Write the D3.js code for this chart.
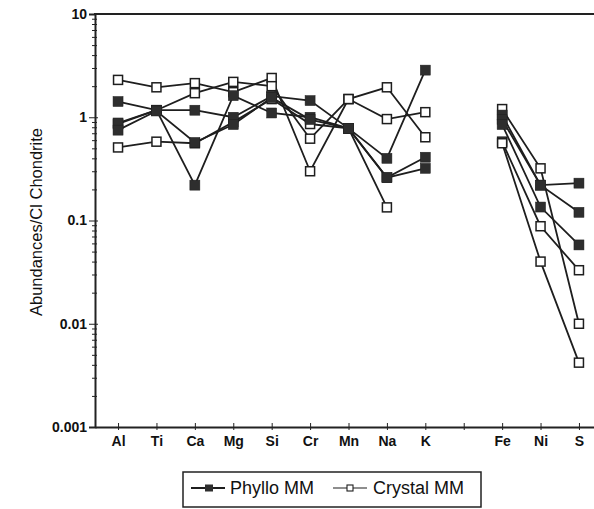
<!DOCTYPE html>
<html>
<head>
<meta charset="utf-8">
<script src="https://cdn.jsdelivr.net/npm/d3@7"></script>
<style>
  body { margin: 0; background: #fff; }
  text { font-family: "Liberation Sans", Arial, sans-serif; fill: #111; }
  .domain { stroke: #222; }
  .tick line { stroke: #222; }
</style>
</head>
<body>
<div id="chart"></div>
<script>
// categories along the x axis (blank slot between K and Fe)
var categories = ["Al", "Ti", "Ca", "Mg", "Si", "Cr", "Mn", "Na", "K", "gap", "Fe", "Ni", "S"]
var categoryLabels = ["Al", "Ti", "Ca", "Mg", "Si", "Cr", "Mn", "Na", "K", "", "Fe", "Ni", "S"]

// Phyllo MM (filled squares)
var phyllo1 = [1.42, 1.17, 1.17, 1.0, 1.6, 1.45, 0.78, 0.40, 2.86, null, 1.05, 0.22, 0.23]
var phyllo2 = [0.88, 1.17, 0.22, 1.62, 1.1, 1.0, 0.78, 0.26, 0.41, null, 0.95, 0.22, 0.12]
var phyllo3 = [0.75, 1.15, 0.57, 0.85, 1.55, 0.95, 0.78, 0.26, 0.32, null, 0.85, 0.135, 0.058]

// Crystal MM (open squares)
var crystal1 = [2.3, 1.95, 2.14, 1.75, 2.4, 0.30, 1.5, 1.95, 0.64, null, 1.2, 0.32, 0.010]
var crystal2 = [0.86, 1.17, 1.71, 2.2, 2.0, 0.62, 1.5, 0.96, 1.12, null, 0.58, 0.088, 0.033]
var crystal3 = [0.51, 0.58, 0.56, 0.9, 1.5, 0.86, 0.78, 0.134, null, null, 0.56, 0.04, 0.0042]

var yTickValues = [10, 1, 0.1, 0.01, 0.001]
var yTickLabels = ["10", "1", "0.1", "0.01", "0.001"]

var width = 594,
    height = 509

var svg = d3.select("#chart")
  .append("svg")
  .attr("width", width)
  .attr("height", height)

var x = d3.scalePoint()
  .domain(categories)
  .range([95, 602])
  .padding(0.6)

var y = d3.scaleLog()
  .domain([0.001, 10])
  .range([427, 14])

// minor ticks 2..9 in each decade
var minor = []
yTickValues.slice(1).forEach(function(d) {
  for (var k = 2; k <= 9; k++) minor.push(d * k)
})

// y axis: major ticks with labels
svg.append("g")
  .attr("transform", "translate(95,0)")
  .call(d3.axisLeft(y).tickValues(yTickValues).tickSize(6).tickPadding(2)
    .tickFormat(function(d, i) { return yTickLabels[i] }))
  .call(function(g) {
    g.select(".domain").attr("stroke-width", 2)
    g.selectAll("text").attr("font-size", 14).attr("font-weight", "bold").attr("fill", "#1a1a1a")
  })

svg.append("g")
  .attr("transform", "translate(95,0)")
  .call(d3.axisRight(y).tickValues(yTickValues.slice(0, 4)).tickSize(3).tickFormat(""))
  .call(function(g) { g.select(".domain").remove() })

svg.append("g")
  .attr("transform", "translate(95,0)")
  .call(d3.axisLeft(y).tickValues(minor).tickSize(3).tickFormat(""))
  .call(function(g) { g.select(".domain").remove() })

svg.append("g")
  .attr("transform", "translate(95,0)")
  .call(d3.axisRight(y).tickValues(minor).tickSize(2).tickFormat(""))
  .call(function(g) { g.select(".domain").remove() })

// x axis
svg.append("g")
  .attr("transform", "translate(0,427)")
  .call(d3.axisBottom(x).tickSize(3).tickSizeOuter(0).tickPadding(6)
    .tickFormat(function(d, i) { return categoryLabels[i] }))
  .call(function(g) {
    g.select(".domain").attr("stroke-width", 2)
    g.selectAll("text").attr("font-size", 14).attr("font-weight", "bold").attr("fill", "#1a1a1a")
  })

svg.append("g")
  .attr("transform", "translate(0,427)")
  .call(d3.axisTop(x).tickSize(4).tickFormat(""))
  .call(function(g) { g.select(".domain").remove() })

// top frame line
svg.append("line")
  .attr("x1", 94).attr("x2", width)
  .attr("y1", y(10)).attr("y2", y(10))
  .attr("stroke", "#222")
  .attr("stroke-width", 2)

// y axis title
svg.append("text")
  .attr("transform", "translate(42,222) rotate(-90)")
  .attr("text-anchor", "middle")
  .attr("font-size", 16.5)
  .text("Abundances/Cl Chondrite")

var series = [
  { values: phyllo1, filled: true },
  { values: phyllo2, filled: true },
  { values: phyllo3, filled: true },
  { values: crystal1, filled: false },
  { values: crystal2, filled: false },
  { values: crystal3, filled: false }
]

var line = d3.line()
  .defined(function(d) { return d.v != null })
  .x(function(d) { return x(d.c) })
  .y(function(d) { return y(d.v) })

function points(s) {
  return s.values.map(function(v, i) { return { c: categories[i], v: v } })
}

svg.append("g")
  .selectAll("path")
  .data(series)
  .enter()
  .append("path")
  .attr("d", function(s) { return line(points(s)) })
  .attr("fill", "none")
  .attr("stroke", "#1e1e1e")
  .attr("stroke-width", 1.8)

// open markers first, filled on top
var order = series.slice(3).concat(series.slice(0, 3))
order.forEach(function(s) {
  svg.append("g")
    .selectAll("rect")
    .data(points(s).filter(function(d) { return d.v != null }))
    .enter()
    .append("rect")
    .attr("x", function(d) { return x(d.c) - (s.filled ? 5 : 4.5) })
    .attr("y", function(d) { return y(d.v) - (s.filled ? 5 : 4.5) })
    .attr("width", s.filled ? 10 : 9)
    .attr("height", s.filled ? 10 : 9)
    .attr("fill", s.filled ? "#2e2e2e" : "#fff")
    .attr("stroke", "#1e1e1e")
    .attr("stroke-width", s.filled ? 0.5 : 1.5)
})

// legend
var legend = svg.append("g")
legend.append("rect")
  .attr("x", 183).attr("y", 472)
  .attr("width", 298).attr("height", 35)
  .attr("fill", "#fff")
  .attr("stroke", "#222")
  .attr("stroke-width", 1.5)

legend.append("line")
  .attr("x1", 191).attr("x2", 225).attr("y1", 488).attr("y2", 488)
  .attr("stroke", "#1e1e1e").attr("stroke-width", 1.8)
legend.append("rect")
  .attr("x", 205).attr("y", 484.5).attr("width", 8).attr("height", 7)
  .attr("fill", "#2e2e2e")
legend.append("text")
  .attr("x", 230).attr("y", 494)
  .attr("font-size", 18)
  .text("Phyllo MM")

legend.append("line")
  .attr("x1", 333).attr("x2", 367).attr("y1", 488).attr("y2", 488)
  .attr("stroke", "#1e1e1e").attr("stroke-width", 1.2)
legend.append("rect")
  .attr("x", 347).attr("y", 485).attr("width", 6).attr("height", 6)
  .attr("fill", "#fff").attr("stroke", "#1e1e1e").attr("stroke-width", 1.1)
legend.append("text")
  .attr("x", 373).attr("y", 494)
  .attr("font-size", 18)
  .text("Crystal MM")
</script>
</body>
</html>
